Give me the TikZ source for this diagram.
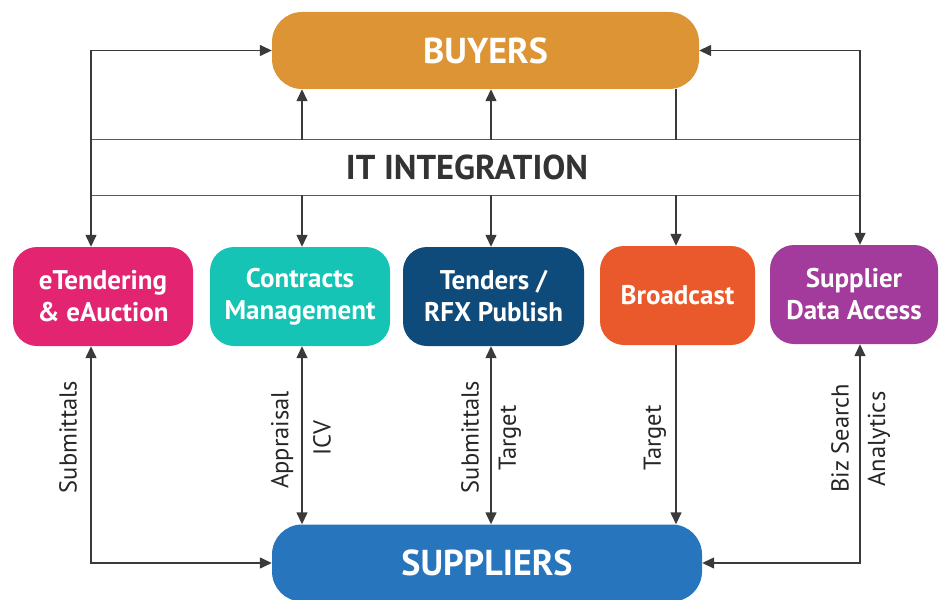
\documentclass[tikz,border=0pt]{standalone}
\usepackage{fontspec}
\setmainfont{PT Sans}
\usetikzlibrary{arrows.meta}
\definecolor{cbuy}{HTML}{DD9434}
\definecolor{csup}{HTML}{2775BD}
\definecolor{cet}{HTML}{E32571}
\definecolor{ccm}{HTML}{15C4B5}
\definecolor{ctr}{HTML}{0E4B7B}
\definecolor{cbr}{HTML}{EA592B}
\definecolor{csd}{HTML}{A23B9B}
\definecolor{cline}{HTML}{3A3A3A}
\definecolor{cband}{HTML}{5A5A5A}
\definecolor{ctxt}{HTML}{333333}
\tikzset{
  bigbox/.style={rounded corners=30pt, minimum width=427pt, minimum height=77pt, inner sep=0pt,
    text=white, font=\fontsize{36}{40}\selectfont\bfseries},
  modbox/.style={rounded corners=24pt, minimum height=99pt, inner sep=0pt, align=center,
    text=white, font=\fontsize{27}{32}\selectfont\bfseries},
  conn/.style={draw=cline, line width=1.4pt, arrows={-}},
  tip/.style={-{Triangle[length=12pt,width=11pt]}},
  tips/.style={{Triangle[length=12pt,width=11pt]}-{Triangle[length=12pt,width=11pt]}},
  vlabel/.style={rotate=90, text=black!85, font=\fontsize{24.5}{26}\selectfont, inner sep=0pt},
  bandline/.style={draw=cband, line width=1.3pt}
}
\begin{document}
\begin{tikzpicture}[x=1pt,y=-1pt]
\useasboundingbox (0,0) rectangle (941,599);
\begin{scope}
\clip (0,0) rectangle (941,599);
% main nodes
\node[bigbox, fill=cbuy] (buyers) at (485.5,50.5) {BUYERS};
\node[bigbox, fill=csup, minimum width=430pt] (suppliers) at (487,563) {\raisebox{-4pt}{SUPPLIERS}};
\node[minimum width=769pt, minimum height=55pt, inner sep=0pt] (it) at (475.5,167.5) {};
\node[text=ctxt, font=\fontsize{34.5}{38}\selectfont\bfseries, inner sep=0pt] (ittext) at (467,167.5) {IT INTEGRATION};
\node[modbox, fill=cet, minimum width=180pt] (et) at (103,296.5) {eTendering\\\& eAuction};
\node[modbox, fill=ccm, minimum width=180pt] (cm) at (300,296.5) {Contracts\\Management};
\node[modbox, fill=ctr, minimum width=181pt] (tr) at (493.5,296.5) {Tenders /\\RFX Publish};
\node[modbox, fill=cbr, minimum width=155pt] (br) at (677.5,295.5) {Broadcast};
\node[modbox, fill=csd, minimum width=168pt] (sd) at (854,294.5) {Supplier\\Data Access};
% column coordinates
\coordinate (c1) at (91,0);
\coordinate (c2) at (302,0);
\coordinate (c3) at (491,0);
\coordinate (c4) at (676,0);
\coordinate (c5) at (860,0);
% band lines
\draw[bandline] (it.north west) -- (it.north east);
\draw[bandline] (it.south west) -- (it.south east);
% top connectors
\draw[conn, tips] (et.north -| c1) |- (buyers.west);
\draw[conn, tips] (sd.north -| c5) |- (buyers.east);
\draw[conn, tip] (it.north -| c2) -- (buyers.south -| c2);
\draw[conn, tip] (it.north -| c3) -- (buyers.south -| c3);
\draw[conn] (buyers.south -| c4) -- (it.north -| c4);
\draw[conn, tip] (it.south -| c2) -- (cm.north -| c2);
\draw[conn, tip] (it.south -| c3) -- (tr.north -| c3);
\draw[conn, tip] (it.south -| c4) -- (br.north -| c4);
% bottom connectors
\draw[conn, tips] (et.south -| c1) |- (suppliers.west);
\draw[conn, tips] (cm.south -| c2) -- (suppliers.north -| c2);
\draw[conn, tips] (tr.south -| c3) -- (suppliers.north -| c3);
\draw[conn, tip] (br.south -| c4) -- (suppliers.north -| c4);
\draw[conn, tips] (sd.south -| c5) |- (suppliers.east);
% labels
\node[vlabel] (l1) at (68,437) {Submittals};
\node[vlabel] (l2) at (282,440) {Appraisal};
\node[vlabel] (l3) at (322,438) {ICV};
\node[vlabel] (l4) at (470,437) {Submittals};
\node[vlabel] (l5) at (510,438) {Target};
\node[vlabel] (l6) at (655,438) {Target};
\node[vlabel] (l7) at (840,438) {Biz Search};
\node[vlabel] (l8) at (879,439) {Analytics};
\end{scope}
\end{tikzpicture}
\end{document}
